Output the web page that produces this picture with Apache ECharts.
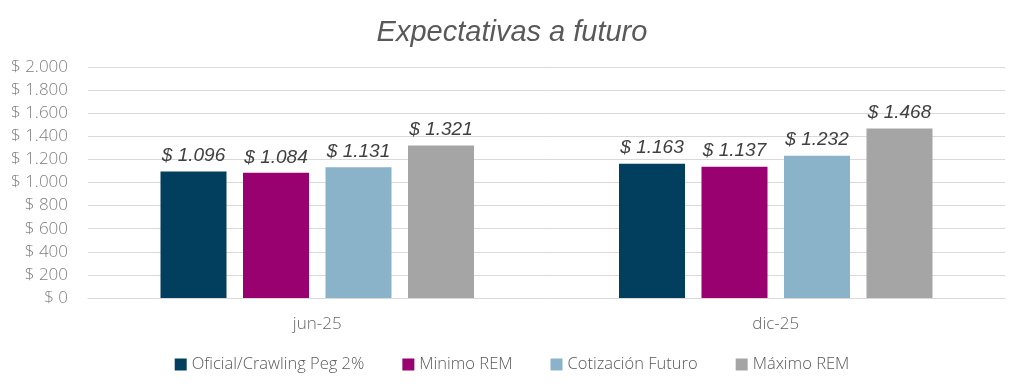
<!DOCTYPE html>
<html><head><meta charset="utf-8">
<script src="https://cdn.jsdelivr.net/npm/echarts@6/dist/echarts.min.js"></script>
<style>html,body{margin:0;padding:0;background:#fff}#c{width:1024px;height:391px}</style>
</head><body><div id="c"></div>
<script>
const categories = ['jun-25', 'dic-25'];
const seriesNames = ['Oficial/Crawling Peg 2%', 'Minimo REM', 'Cotización Futuro', 'Máximo REM'];
const oficial = [1096, 1163];
const minimo = [1084, 1137];
const cotizacion = [1131, 1232];
const maximo = [1321, 1468];
const colors = ['#023F5E', '#990070', '#8AB2C9', '#A5A5A5'];
const fmt = v => '$ ' + (v >= 1000 ? Math.floor(v/1000) + '.' + String(v%1000).padStart(3,'0') : String(v));
const values = [oficial, minimo, cotizacion, maximo];
const chart = echarts.init(document.getElementById('c'));
chart.setOption({
  animation: false,
  title: { text: 'Expectativas a futuro', left: 'center', top: 13,
    textStyle: { fontFamily: 'Liberation Sans', fontStyle: 'italic', fontWeight: 'normal', fontSize: 29, color: '#595959' } },
  grid: { left: 88, right: 19, top: 67, bottom: 93 },
  legend: { bottom: 13, left: 'center', itemWidth: 12, itemHeight: 12, itemGap: 38, icon: 'rect',
    textStyle: { fontFamily: 'Open Sans', fontWeight: 300, fontSize: 16.5, color: '#595959' } },
  xAxis: { type: 'category', data: categories,
    axisLine: { lineStyle: { color: '#D9D9D9' } }, axisTick: { show: false },
    axisLabel: { fontFamily: 'Open Sans', fontWeight: 300, fontSize: 17, color: '#666666', margin: 18 } },
  yAxis: { type: 'value', min: 0, max: 2000, interval: 200,
    axisLabel: { formatter: fmt, fontFamily: 'Open Sans', fontWeight: 300, fontSize: 17, color: '#7F7F7F', margin: 20 },
    splitLine: { lineStyle: { color: '#D9D9D9' } } },
  series: seriesNames.map((n, i) => ({
    name: n, type: 'bar', data: values[i], barWidth: 66, barGap: '25%',
    itemStyle: { color: colors[i] },
    label: { show: true, position: 'top', distance: 6, formatter: p => fmt(p.value),
      fontFamily: 'Liberation Sans', fontStyle: 'italic', fontSize: 19, color: '#404040' }
  }))
});
</script></body></html>
